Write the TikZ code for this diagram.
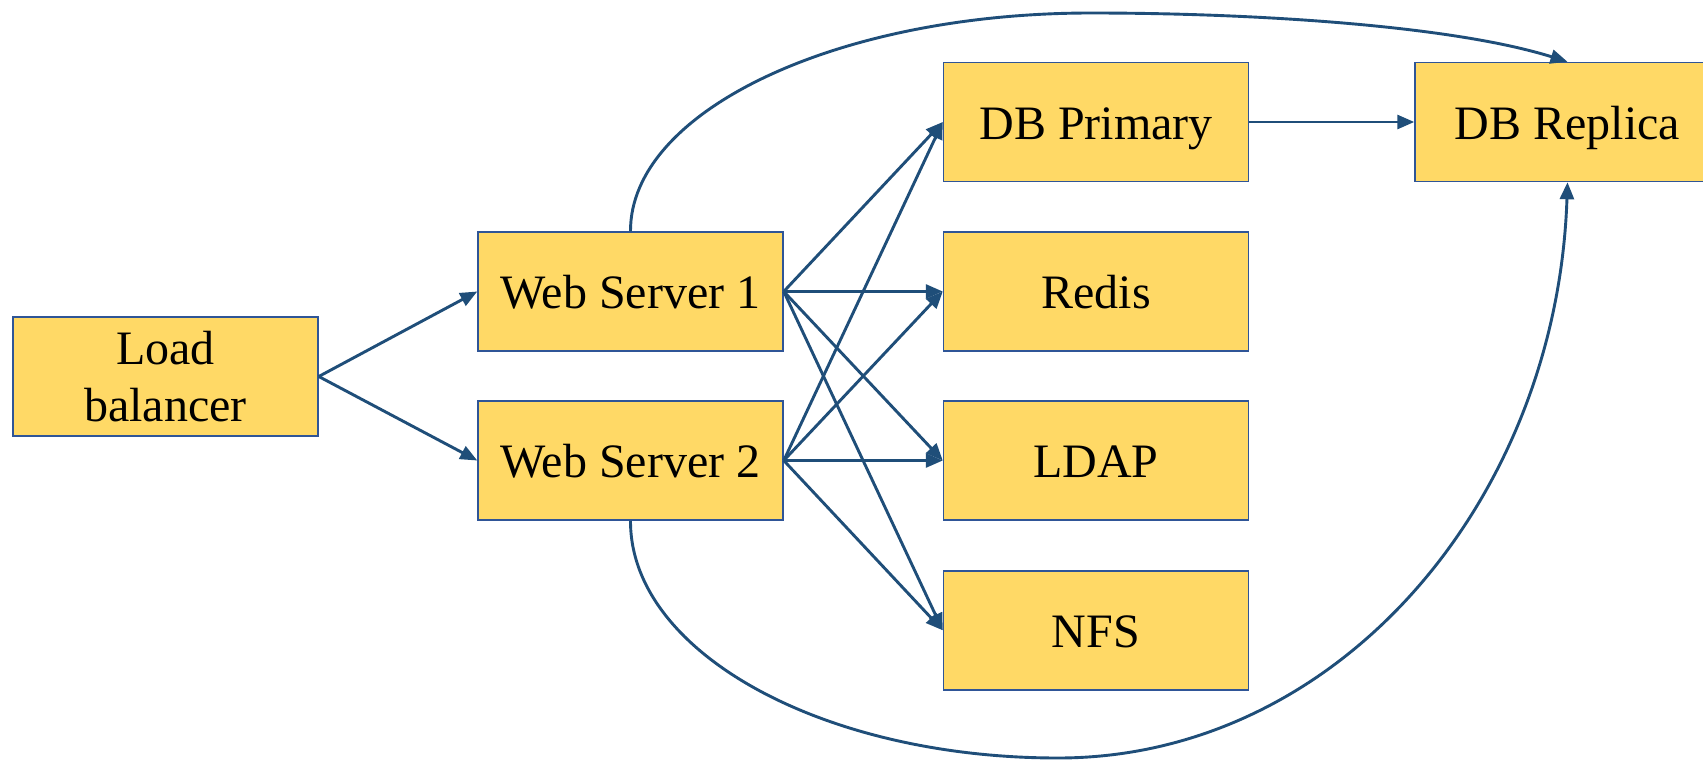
\documentclass[tikz,border=0pt]{standalone}
\usepackage{fontspec}
\setmainfont{Liberation Serif}
\usetikzlibrary{arrows.meta}
\definecolor{lineblue}{RGB}{31,78,121}
\definecolor{boxfill}{RGB}{255,217,102}
\definecolor{boxdraw}{RGB}{47,85,151}
\begin{document}
\begin{tikzpicture}[x=1pt,y=1pt,
  box/.style={draw=boxdraw, line width=1.5pt, fill=boxfill, minimum width=305pt,
    minimum height=119pt, inner sep=0pt, align=center,
    font=\fontsize{48}{57.6}\selectfont},
  onebox/.style={box, text height=34pt, text depth=0pt},
  conn/.style={draw=lineblue, line width=2.9pt, -{Triangle[length=17pt,width=14pt]}}]
\clip (0,0) rectangle (1703,-760);
\fill[white] (0,0) rectangle (1703,-760);
\node[box] (lb)  at (165.5,-376.5) {Load\\balancer};
\node[onebox] (ws1) at (630.5,-291.5) {Web Server 1};
\node[onebox] (ws2) at (630.5,-460.5) {Web Server 2};
\node[onebox] (dbp) at (1096,-122) {DB Primary};
\node[onebox] (redis) at (1096,-291.5) {Redis};
\node[onebox] (ldap) at (1096,-460.5) {LDAP};
\node[onebox] (nfs) at (1096,-630.3) {NFS};
\node[onebox] (rep) at (1567.5,-122) {DB Replica};

\draw[conn] (lb.east) -- (ws1.west);
\draw[conn] (lb.east) -- (ws2.west);
\foreach \s in {ws1,ws2}{
  \foreach \t in {dbp,redis,ldap,nfs}{
    \draw[conn] (\s.east) -- (\t.west);
  }
}
\draw[conn] (dbp.east) -- (rep.west);
\draw[conn] (ws1.north) .. controls (630,-111) and (837,-13) .. (1091,-13)
  .. controls (1250,-13) and (1450,-25) .. (rep.north);
\draw[conn] (ws2.south) .. controls (630,-652) and (822,-758) .. (1058,-758)
  .. controls (1339,-758) and (1557,-500) .. (rep.south);
\end{tikzpicture}
\end{document}
